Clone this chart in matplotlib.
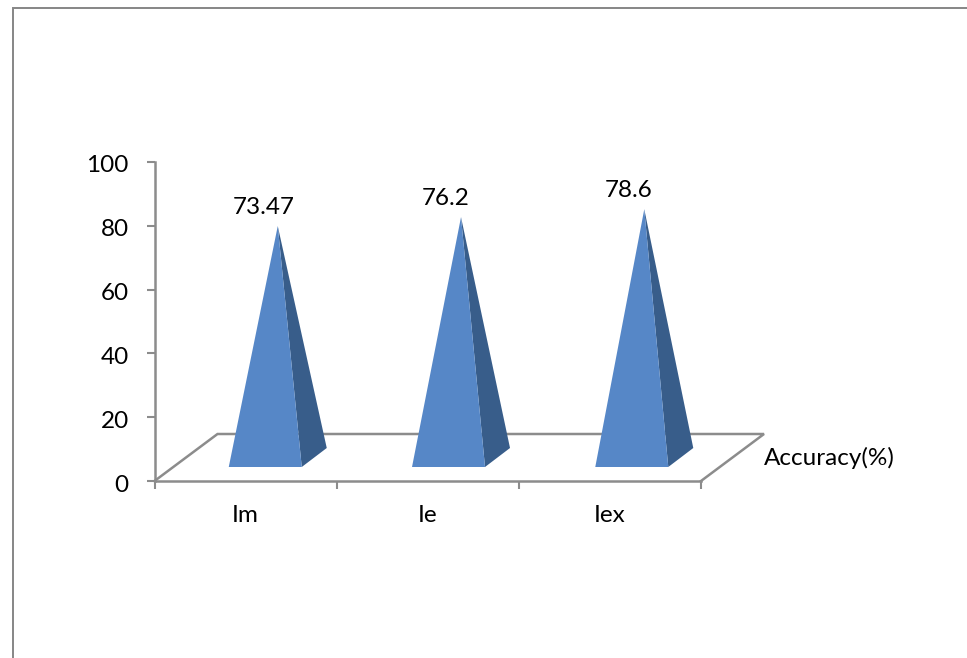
import matplotlib
matplotlib.use("Agg")
import matplotlib.pyplot as plt
from matplotlib.lines import Line2D
from matplotlib.patches import Polygon
from matplotlib.transforms import offset_copy, ScaledTranslation

categories = ["Im", "Ie", "Iex"]
accuracy = [73.47, 76.2, 78.6]
value_labels = ["73.47", "76.2", "78.6"]
y_ticks = [0, 20, 40, 60, 80, 100]
series_name = "Accuracy(%)"

W, H = 967, 658
GRAY = "#8c8c8c"
FRONT = "#5687c7"
SIDE = "#385d8a"
FS = 17.5
plt.rcParams["font.family"] = ["Lato", "DejaVu Sans"]

fig = plt.figure(figsize=(W / 100, H / 100), dpi=100, facecolor="white")
L, R, T, B = 154.5, 701, 162, 481
ax = fig.add_axes([L / W, 1 - B / H, (R - L) / W, (B - T) / H])
ax.set_xlim(0, len(categories))
ax.set_ylim(0, 100)
ax.patch.set_alpha(0)
for s in ("top", "right"):
    ax.spines[s].set_visible(False)
for s in ("left", "bottom"):
    ax.spines[s].set_color(GRAY)
    ax.spines[s].set_linewidth(1.8)

ax.set_yticks(y_ticks)
ax.set_xticks(range(len(categories) + 1))
ax.set_xticklabels([])
ax.tick_params(axis="y", length=6, width=1.5, color=GRAY, pad=12.5, labelsize=FS, labelcolor="black")
ax.tick_params(axis="x", length=6, width=1.5, color=GRAY)
shift = ScaledTranslation(0, -2 / 100, fig.dpi_scale_trans)
for lbl in ax.get_yticklabels():
    lbl.set_transform(lbl.get_transform() + shift)

px = (R - L) / len(categories)   # pixels per category
py = (B - T) / 100               # pixels per value unit

# Floor parallelogram, drawn through the axes scale
floor_dx, floor_dy = 63 / px, 47 / py
ax.plot([0, floor_dx, len(categories) + floor_dx, len(categories)],
        [0, floor_dy, floor_dy, 0], color=GRAY, lw=1.8, clip_on=False,
        solid_joinstyle="miter", zorder=2)

# Pyramids
base_y = 14 / py
half_w = 36.5 / px
depth_dx, depth_dy = 25 / px, 19 / py
height_scale = 3.28 / py
label_tf = offset_copy(ax.transData, fig=fig, x=0, y=19 * 72 / 100, units="points")
for i, (v, lab) in enumerate(zip(accuracy, value_labels)):
    cx = 0.608 + i * 1.006
    ax_x = cx + depth_dx / 2
    top = base_y + v * height_scale
    ax.add_patch(Polygon([(cx + half_w, base_y), (cx + half_w + depth_dx, base_y + depth_dy), (ax_x, top)],
                         closed=True, fc=SIDE, ec="none", clip_on=False, zorder=3))
    ax.add_patch(Polygon([(cx - half_w, base_y), (cx + half_w, base_y), (ax_x, top)],
                         closed=True, fc=FRONT, ec="none", clip_on=False, zorder=4))
    ax.text(0.6 + i * 1.0, top, lab, transform=label_tf, ha="center", va="center", fontsize=FS, color="black")
    ax.annotate(categories[i], xy=(i + 0.5, 0), xytext=(0, -35 * 0.72), textcoords="offset points",
                ha="center", va="center", fontsize=FS, color="black")

ax.annotate(series_name, xy=(len(categories), 0), xytext=(63 * 0.72, 23 * 0.72), textcoords="offset points",
            ha="left", va="center", fontsize=FS, color="black")

# Outer frame, clipped by the image edge at right and bottom
fig.add_artist(Line2D([12.5 / W, 12.5 / W, 1], [0, 1 - 7.5 / H, 1 - 7.5 / H],
                      color="#868686", lw=1.4, solid_joinstyle="miter"))

fig.savefig("out.png", dpi=100, facecolor="white")
